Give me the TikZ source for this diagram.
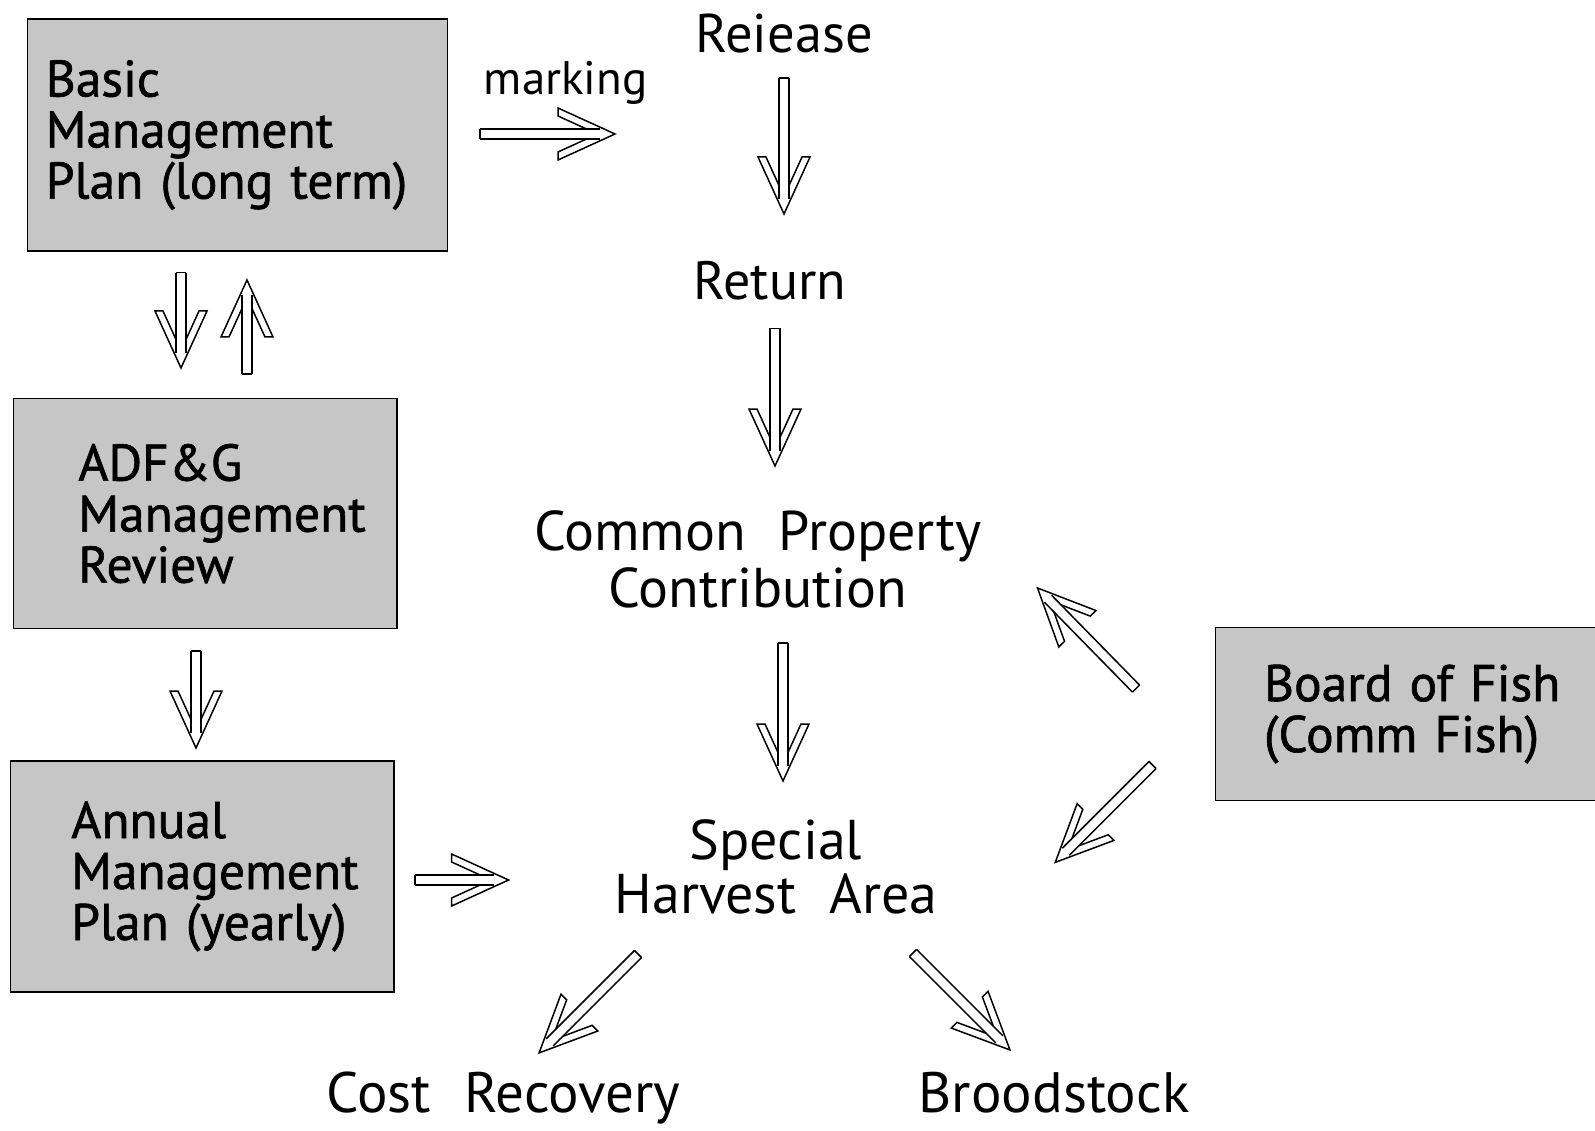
\documentclass[tikz,border=0pt]{standalone}
\usepackage{fontspec}
\setmainfont{PT Sans}[WordSpace=2.2]
\newfontfamily\boxfont{PT Sans}[WordSpace=2.4, FakeBold=1.2]
\usetikzlibrary{calc}
\definecolor{boxgray}{RGB}{198,198,198}
\tikzset{
  boxnode/.style={draw=black, line width=1.5pt, fill=boxgray, rectangle, align=left, inner ysep=0pt, font=\boxfont\fontsize{51.5}{51}\selectfont},
  freetext/.style={align=center, inner sep=0pt, font=\fontsize{56}{57}\selectfont},
  arrowline/.style={draw=black, line width=1.5pt, line join=miter},
}
\newcommand{\fatarrow}[2]{%
  \path let \p1=($(#2)-(#1)$), \n1={atan2(\y1,\x1)}, \n2={veclen(\x1,\y1)} in \pgfextra{\xdef\arang{\n1}\xdef\arlen{\n2}};%
  \begin{scope}[shift={(#1)}, rotate=\arang, x=1pt, y=1pt]
    \draw[arrowline] (0,5) -- ({\arlen-15},5);
    \draw[arrowline] (0,-5) -- ({\arlen-15},-5);
    \draw[arrowline] (0,5) -- (0,-5);
    \draw[arrowline] ({\arlen-28.5},5) -- ({\arlen-57},18) -- ({\arlen-57},26) -- (\arlen,0) -- ({\arlen-57},-26) -- ({\arlen-57},-18) -- ({\arlen-28.5},-5);
  \end{scope}
}
\begin{document}
\begin{tikzpicture}[x=1pt, y=-1pt]
\useasboundingbox (0,0) rectangle (1595,1131);
\fill[white] (0,0) rectangle (1595,1131);

% boxes
\node[boxnode, minimum width=420.1pt, minimum height=232pt, inner xsep=18.3pt, text width=383.5pt] (basic) at (237.5,135) {Basic\\Management\\Plan~(long~term)};
\node[boxnode, minimum width=383.5pt, minimum height=230pt, inner xsep=65.1pt, text width=253.3pt] (adfg) at (205,513.6) {ADF\&G\\Management\\Review};
\node[boxnode, minimum width=383.5pt, minimum height=231pt, inner xsep=61pt, text width=261.5pt] (annual) at (202,876.4) {Annual\\Management\\Plan~(yearly)};
\node[boxnode, minimum width=394.5pt, minimum height=173pt, inner xsep=48.5pt, text width=297.5pt] (board) at (1412.75,714) {Board~of~Fish\\(Comm~Fish)};

% free texts
\node[freetext, font=\fontsize{47}{50}\selectfont] (marking) at (565.6,82.8) {marking};
\node[freetext, font=\fontsize{54.5}{57}\selectfont] (release) at (784,34) {Reiease};
\node[freetext, font=\fontsize{54}{57}\selectfont] (return) at (770,281) {Return};
\node[freetext] (cpc) at (758,559) {Common~Property\\Contribution};
\node[freetext, font=\fontsize{56}{54}\selectfont] (sha) at (776,867) {Special\\Harvest~Area};
\node[freetext, font=\fontsize{57}{57}\selectfont] (cost) at (503.5,1098) {Cost~Recovery};
\node[freetext, font=\fontsize{57}{57}\selectfont] (brood) at (1054,1093) {Broodstock};

% arrow end points
\coordinate (m1) at (480,134);   \coordinate (m2) at (615,134);
\coordinate (r1) at (784,78);    \coordinate (r2) at (784,214);
\coordinate (t1) at (775,328.5); \coordinate (t2) at (775,466);
\coordinate (c1) at (783,643);   \coordinate (c2) at (783,781);
\coordinate (s1) at (638,954);   \coordinate (s2) at (539,1053);
\coordinate (b1) at (913,953);   \coordinate (b2) at (1010,1050);
\coordinate (f1) at (1136,688.6);\coordinate (f2) at (1037.5,588);
\coordinate (g1) at (1152.5,765);\coordinate (g2) at (1055,862.6);
\coordinate (d1) at (181,272.6); \coordinate (d2) at (181,368);
\coordinate (u1) at (247,374);   \coordinate (u2) at (247,280);
\coordinate (a1) at (196,651);   \coordinate (a2) at (196,748);
\coordinate (y1) at (415,880);   \coordinate (y2) at (508.6,880);

\fatarrow{m1}{m2}
\fatarrow{r1}{r2}
\fatarrow{t1}{t2}
\fatarrow{c1}{c2}
\fatarrow{s1}{s2}
\fatarrow{b1}{b2}
\fatarrow{f1}{f2}
\fatarrow{g1}{g2}
\fatarrow{d1}{d2}
\fatarrow{u1}{u2}
\fatarrow{a1}{a2}
\fatarrow{y1}{y2}
\end{tikzpicture}
\end{document}
